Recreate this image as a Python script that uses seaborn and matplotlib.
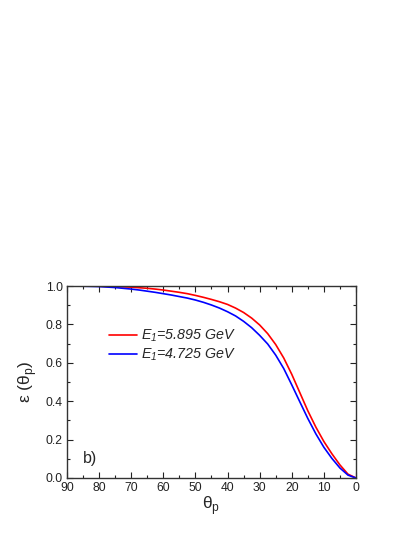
import numpy as np
import pandas as pd
import matplotlib
matplotlib.use("Agg")
import matplotlib.pyplot as plt
import seaborn as sns
from matplotlib.ticker import MultipleLocator

theta = [0, 2.5, 5, 7.5, 10, 12.5, 15, 17.5, 20, 22.5, 25, 27.5, 30, 32.5, 35,
         37.5, 40, 42.5, 45, 47.5, 50, 52.5, 55, 57.5, 60, 62.5, 65, 67.5, 70,
         75, 80, 85, 90]
eps_5895 = [0.0, 0.02, 0.068, 0.126, 0.19, 0.265, 0.35, 0.445, 0.54, 0.625,
            0.695, 0.752, 0.797, 0.833, 0.862, 0.885, 0.904, 0.918, 0.93, 0.941,
            0.951, 0.96, 0.967, 0.973, 0.979, 0.984, 0.988, 0.991, 0.994,
            0.997, 0.999, 1.0, 1.0]
eps_4725 = [0.0, 0.015, 0.052, 0.102, 0.16, 0.23, 0.31, 0.397, 0.485, 0.57,
            0.64, 0.698, 0.743, 0.783, 0.816, 0.844, 0.866, 0.885, 0.901, 0.915,
            0.927, 0.937, 0.945, 0.953, 0.96, 0.967, 0.973, 0.979, 0.984,
            0.992, 0.997, 0.999, 1.0]
series_labels = ["E$_\\mathregular{1}$=5.895 GeV", "E$_\\mathregular{1}$=4.725 GeV"]
x_ticks = [90, 80, 70, 60, 50, 40, 30, 20, 10, 0]
y_ticks = [0.0, 0.2, 0.4, 0.6, 0.8, 1.0]

df = pd.concat([
    pd.DataFrame({"theta": theta, "eps": eps_5895, "series": series_labels[0]}),
    pd.DataFrame({"theta": theta, "eps": eps_4725, "series": series_labels[1]}),
])

sns.set_theme(style="ticks")
plt.rcParams["font.family"] = ["Liberation Sans", "DejaVu Sans"]

fig = plt.figure(figsize=(4.15, 5.37), dpi=100)
ax = fig.add_axes([0.1614, 0.1099, 0.6964, 0.3575])

sns.lineplot(data=df, x="theta", y="eps", hue="series",
             palette=["#ff0000", "#0000ff"], linewidth=1.2, ax=ax,
             sort=True, estimator=None)

ax.set_xlim(90, 0)
ax.set_ylim(0, 1.0)
ax.set_xticks(x_ticks)
ax.set_yticks(y_ticks)
ax.set_xticklabels([str(t) for t in x_ticks])
ax.set_yticklabels([f"{t:.1f}" for t in y_ticks])
ax.xaxis.set_minor_locator(MultipleLocator(5))
ax.yaxis.set_minor_locator(MultipleLocator(0.1))
ax.tick_params(which="both", direction="in", top=True, right=True,
               labelsize=8.7, colors="#222222", width=0.8, pad=3)
ax.tick_params(which="major", length=4)
ax.tick_params(which="minor", length=2)
for sp in ax.spines.values():
    sp.set_linewidth(1.0)
    sp.set_color("#333333")

ax.set_xlabel("θ$_\\mathregular{p}$", fontsize=12.5, labelpad=0)
ax.set_ylabel("ε (θ$_\\mathregular{p}$)", fontsize=12.5, labelpad=5)

leg = ax.legend(loc="upper left", bbox_to_anchor=(0.1, 0.85), frameon=False,
                handlelength=2.0, handletextpad=0.25, labelspacing=0.2,
                prop={"style": "italic", "size": 10.3})
for line in leg.get_lines():
    line.set_linewidth(1.2)

ax.text(0.055, 0.1, "b)", transform=ax.transAxes, fontsize=11.5,
        ha="left", va="center")

fig.savefig("out.png", dpi=100)
